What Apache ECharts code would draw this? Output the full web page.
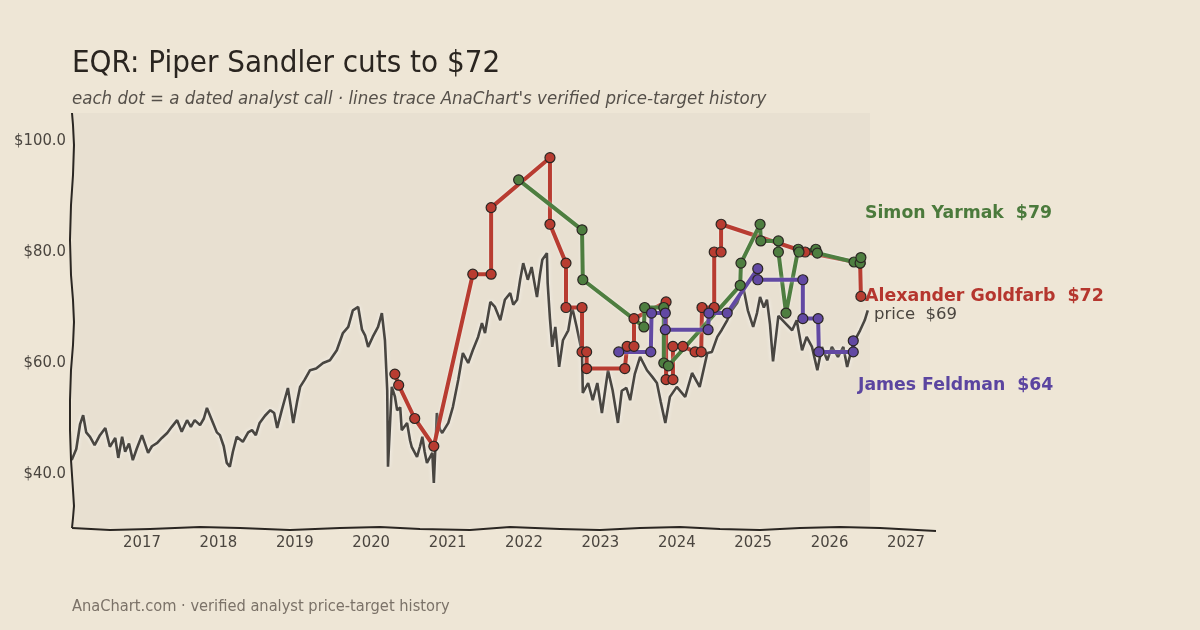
<!DOCTYPE html>
<html>
<head>
<meta charset="utf-8">
<script src="https://cdn.jsdelivr.net/npm/echarts@6/dist/echarts.min.js"></script>
<style>
  html, body { margin: 0; padding: 0; background: #eee6d6; }
  #chart { width: 1200px; height: 630px; }
</style>
</head>
<body>
<div id="chart"></div>
<script>
// EQR closing price (decimal year, $)
var priceYears = [2016.08, 2016.14, 2016.19, 2016.23, 2016.27, 2016.32, 2016.38, 2016.45, 2016.52, 2016.58,
    2016.65, 2016.69, 2016.74, 2016.78, 2016.83, 2016.88, 2016.93, 2017.00, 2017.08, 2017.13,
    2017.20, 2017.26, 2017.33, 2017.39, 2017.46, 2017.52, 2017.59, 2017.64, 2017.69, 2017.76,
    2017.81, 2017.85, 2017.93, 2017.98, 2018.02, 2018.07, 2018.11, 2018.15, 2018.19, 2018.24,
    2018.32, 2018.39, 2018.44, 2018.49, 2018.54, 2018.61, 2018.68, 2018.73, 2018.77, 2018.83,
    2018.91, 2018.95, 2018.98, 2019.03, 2019.07, 2019.13, 2019.20, 2019.28, 2019.37, 2019.46,
    2019.55, 2019.63, 2019.70, 2019.76, 2019.83, 2019.88, 2019.92, 2019.96, 2020.02, 2020.09,
    2020.14, 2020.18, 2020.21, 2020.22, 2020.25, 2020.27, 2020.31, 2020.34, 2020.38, 2020.40,
    2020.47, 2020.51, 2020.53, 2020.60, 2020.64, 2020.67, 2020.70, 2020.73, 2020.80, 2020.82,
    2020.86, 2020.90, 2020.93, 2021.01, 2021.07, 2021.14, 2021.20, 2021.27, 2021.33, 2021.40,
    2021.45, 2021.49, 2021.56, 2021.62, 2021.69, 2021.75, 2021.82, 2021.86, 2021.91, 2021.95,
    2021.99, 2022.05, 2022.10, 2022.17, 2022.21, 2022.24, 2022.30, 2022.31, 2022.34, 2022.37,
    2022.41, 2022.46, 2022.51, 2022.58, 2022.63, 2022.69, 2022.76, 2022.77, 2022.84, 2022.90,
    2022.96, 2023.02, 2023.10, 2023.16, 2023.23, 2023.28, 2023.34, 2023.39, 2023.45, 2023.52,
    2023.61, 2023.68, 2023.74, 2023.79, 2023.85, 2023.91, 2024.00, 2024.11, 2024.20, 2024.30,
    2024.40, 2024.46, 2024.53, 2024.59, 2024.66, 2024.72, 2024.79, 2024.87, 2024.93, 2025.00,
    2025.05, 2025.09, 2025.14, 2025.18, 2025.22, 2025.26, 2025.33, 2025.42, 2025.51, 2025.57,
    2025.64, 2025.70, 2025.77, 2025.84, 2025.90, 2025.97, 2026.03, 2026.11, 2026.18, 2026.23,
    2026.31, 2026.40, 2026.46, 2026.50];
var priceValues = [42.5, 44.5, 49.0, 50.6, 47.5, 46.7, 45.2, 47.0, 48.3, 44.9,
    46.5, 42.9, 46.7, 44.0, 45.5, 42.5, 44.5, 47.0, 43.8, 45.0,
    45.6, 46.5, 47.4, 48.5, 49.7, 47.6, 49.7, 48.5, 49.7, 48.8,
    50.0, 51.9, 49.2, 47.5, 47.0, 45.0, 42.0, 41.3, 44.0, 46.7,
    45.8, 47.5, 47.9, 47.0, 49.2, 50.5, 51.5, 51.0, 48.3, 51.5,
    55.5, 52.0, 49.2, 53.0, 55.7, 57.0, 58.7, 59.0, 60.0, 60.5,
    62.3, 65.4, 66.5, 69.5, 70.1, 66.0, 65.0, 62.9, 64.7, 66.5,
    69.0, 64.1, 55.1, 41.3, 50.0, 55.7, 54.0, 51.5, 52.0, 47.9,
    49.2, 46.0, 44.9, 43.1, 45.0, 46.7, 44.0, 42.0, 43.8, 38.4,
    51.0, 48.0, 47.4, 49.2, 52.1, 57.0, 61.8, 60.0, 62.3, 64.7,
    67.2, 65.4, 71.0, 70.1, 67.7, 71.4, 72.6, 70.5, 71.4, 75.0,
    78.0, 75.0, 77.3, 71.9, 76.0, 78.6, 79.8, 74.4, 68.0, 62.9,
    66.5, 59.3, 64.1, 65.9, 70.1, 66.5, 61.8, 54.6, 56.4, 53.3,
    56.4, 51.0, 58.7, 55.1, 49.2, 55.0, 55.5, 53.3, 58.0, 61.1,
    58.7, 57.5, 56.4, 53.0, 49.2, 53.9, 55.7, 53.9, 58.2, 55.7,
    61.8, 62.0, 64.7, 66.0, 67.7, 69.5, 70.8, 73.7, 69.5, 66.5,
    69.0, 71.9, 70.0, 71.4, 67.0, 60.3, 68.5, 67.2, 65.9, 67.7,
    62.3, 64.7, 62.9, 58.7, 62.9, 60.5, 62.9, 61.1, 62.9, 59.3,
    63.6, 65.9, 67.7, 69.5];

// analyst price targets (decimal year, $)
var goldfarbYears = [2020.31, 2020.36, 2020.57, 2020.82, 2021.33, 2021.57, 2021.57, 2022.34, 2022.34, 2022.55,
    2022.55, 2022.76, 2022.76, 2022.82, 2022.82, 2023.32, 2023.35, 2023.44, 2023.44, 2023.86,
    2023.86, 2023.95, 2023.95, 2024.08, 2024.24, 2024.32, 2024.33, 2024.49, 2024.49, 2024.58,
    2024.58, 2025.68, 2026.40, 2026.41];
var goldfarbTargets = [58, 56, 50, 45, 76, 76, 88, 97, 85, 78,
    70, 70, 62, 62, 59, 59, 63, 63, 68, 71,
    57, 57, 63, 63, 62, 62, 70, 70, 80, 80,
    85, 80, 78, 72];

var yarmakYears = [2021.93, 2022.76, 2022.77, 2023.57, 2023.58, 2023.83, 2023.83, 2023.89, 2024.83, 2024.84,
    2025.09, 2025.10, 2025.33, 2025.33, 2025.43, 2025.59, 2025.60, 2025.82, 2025.84, 2026.32,
    2026.40, 2026.41];
var yarmakTargets = [93, 84, 75, 66.5, 70, 70, 60, 59.5, 74, 78,
    85, 82, 82, 80, 69, 80.5, 80, 80.5, 79.8, 78.2,
    78, 79];

var feldmanYears = [2023.24, 2023.66, 2023.67, 2023.85, 2023.85, 2024.41, 2024.42, 2024.66, 2025.06, 2025.06,
    2025.65, 2025.65, 2025.85, 2025.86, 2026.31, 2026.31];
var feldmanTargets = [62, 62, 69, 69, 66, 66, 69, 69, 77, 75,
    75, 68, 68, 62, 62, 64];

var yearTicks = [2017, 2018, 2019, 2020, 2021, 2022, 2023, 2024, 2025, 2026, 2027];
var priceTicks = [40, 60, 80, 100];

var condensed = '"DejaVu Sans Condensed", "DejaVu Sans", sans-serif';
var plain = '"DejaVu Sans", sans-serif';

function pairs(xs, ys) {
    return xs.map(function (x, i) { return [x, ys[i]] })
}

function analystSeries(name, xs, ys, color) {
    return {
        name: name,
        type: 'line',
        data: pairs(xs, ys),
        symbol: 'circle',
        symbolSize: 10,
        lineStyle: { color: color, width: 4, shadowColor: 'rgba(255,255,255,0.5)', shadowBlur: 3 },
        itemStyle: { color: color, borderColor: '#2a2622', borderWidth: 1.2 },
        z: 3,
        silent: true
    }
}

var chart = echarts.init(document.getElementById('chart'));

var option = {
    backgroundColor: '#eee6d6',
    animation: false,
    grid: { left: 72, right: 264, top: 113, bottom: 102 },
    xAxis: {
        type: 'value',
        min: 2016.084,
        max: 2027.393,
        axisLine: { show: false },
        axisTick: { show: false },
        splitLine: { show: false },
        axisLabel: {
            customValues: yearTicks,
            formatter: function (v) { return String(Math.round(v)) },
            color: '#4a453f',
            fontFamily: condensed,
            fontSize: 16.5,
            margin: 6
        }
    },
    yAxis: {
        type: 'value',
        min: 30.27,
        max: 105.05,
        axisLine: { show: false },
        axisTick: { show: false },
        splitLine: { show: false },
        axisLabel: {
            customValues: priceTicks,
            formatter: function (v) { return '$' + v.toFixed(1) },
            color: '#4a453f',
            fontFamily: condensed,
            fontSize: 16.5,
            margin: 6
        }
    },
    graphic: [
        { type: 'rect', z: -10, shape: { x: 72, y: 113, width: 798, height: 415 }, style: { fill: '#e8e0d1' } },
        {
            type: 'polyline', z: 10,
            shape: { points: [[72, 113], [73, 125], [74, 145], [73, 175], [71, 205], [70, 240], [71, 275], [73, 300],
                [74, 322], [73, 345], [71, 370], [70, 400], [70, 430], [71, 460], [73, 490], [74, 506], [73, 518], [72, 528]] },
            style: { stroke: '#2a2622', lineWidth: 2, fill: null }
        },
        {
            type: 'polyline', z: 10,
            shape: { points: [[72, 528], [110, 530], [150, 529], [200, 527], [240, 528], [290, 530], [340, 528], [380, 527],
                [420, 529], [470, 530], [510, 527], [560, 529], [600, 530], [640, 528], [680, 527], [720, 529],
                [760, 530], [800, 528], [840, 527], [880, 528], [936, 531]] },
            style: { stroke: '#2a2622', lineWidth: 2, fill: null }
        },
        { type: 'text', left: 72, top: 48, style: { text: 'EQR: Piper Sandler cuts to $72', fill: '#2a2520', font: '31px ' + condensed } },
        { type: 'text', left: 72, top: 90, style: { text: "each dot = a dated analyst call · lines trace AnaChart's verified price-target history", fill: '#55504a', font: 'italic 18.5px ' + condensed } },
        { type: 'text', left: 72, top: 599, style: { text: 'AnaChart.com · verified analyst price-target history', fill: '#7b7268', font: '16.3px ' + condensed } },
        { type: 'text', left: 865, top: 205, style: { text: 'Simon Yarmak  $79', fill: '#4b7a3c', font: 'bold 17.3px ' + plain } },
        { type: 'text', left: 865, top: 288, style: { text: 'Alexander Goldfarb  $72', fill: '#b5362e', font: 'bold 17.4px ' + plain } },
        { type: 'text', left: 874, top: 306, style: { text: 'price  $69', fill: '#4a453f', font: '16.5px ' + plain } },
        { type: 'text', left: 858, top: 377, style: { text: 'James Feldman  $64', fill: '#5b45a0', font: 'bold 17.3px ' + plain } }
    ],
    series: [
        {
            name: 'price',
            type: 'line',
            data: pairs(priceYears, priceValues),
            showSymbol: false,
            lineStyle: { color: '#494641', width: 2.6, shadowColor: 'rgba(255,255,255,0.7)', shadowBlur: 4 },
            z: 2,
            silent: true
        },
        analystSeries('Alexander Goldfarb', goldfarbYears, goldfarbTargets, '#b83c31'),
        analystSeries('Simon Yarmak', yarmakYears, yarmakTargets, '#4e7e40'),
        analystSeries('James Feldman', feldmanYears, feldmanTargets, '#6249a3')
    ]
};

chart.setOption(option);
</script>
</body>
</html>
